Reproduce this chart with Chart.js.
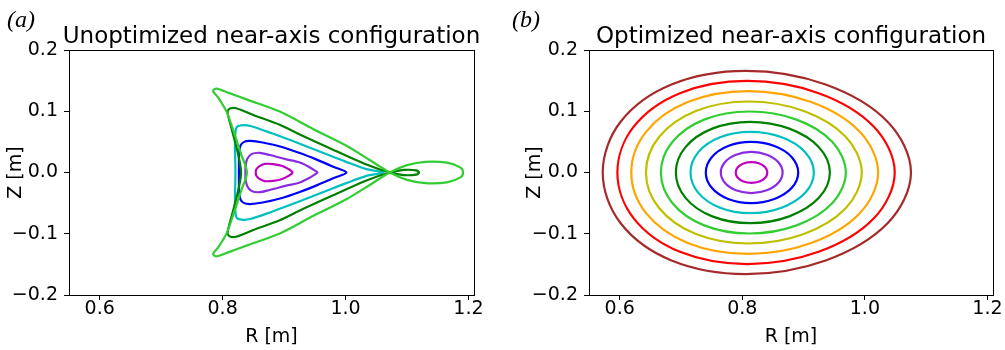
<!DOCTYPE html>
<html>
<head>
<meta charset="utf-8">
<script src="https://cdn.jsdelivr.net/npm/chart.js@4.4.1/dist/chart.umd.min.js"></script>
<style>
  body { margin: 0; background: #fff; }
  #wrap { position: relative; width: 1005px; height: 350px; }
  canvas { position: absolute; top: 0; }
</style>
</head>
<body>
<div id="wrap">
  <canvas id="panelA" width="505" height="350" style="left:0"></canvas>
  <canvas id="panelB" width="500" height="350" style="left:505px"></canvas>
</div>
<script>
// axis limits and tick labels
const rRange = [0.550, 1.209];
const zRange = [-0.2, 0.2];
const rTicks = [0.6, 0.8, 1.0, 1.2];
const zTicks = [-0.2, -0.1, 0.0, 0.1, 0.2];

// (a) unoptimized: flux surfaces as [R, Z], innermost first
const unoptColors = ['#bf00bf', '#8a2be2', '#0000ff', '#00bfbf', '#008000', '#32cd32'];
const unopt1 = [[0.8539, 0], [0.8544, 0.0045], [0.8593, 0.0100], [0.8685, 0.0140], [0.8821, 0.0137], [0.8957, 0.0110],
  [0.9065, 0.0060], [0.9136, 0], [0.9065, -0.0060], [0.8957, -0.0110], [0.8821, -0.0137], [0.8685, -0.0140],
  [0.8593, -0.0100], [0.8544, -0.0045]];
const unopt2 = [[0.8371, 0], [0.8372, 0.0100], [0.8397, 0.0215], [0.8468, 0.0300], [0.8604, 0.0322], [0.8767, 0.0285],
  [0.9038, 0.0215], [0.9255, 0.0164], [0.9400, 0.0095], [0.9490, 0.0040], [0.9543, 0], [0.9490, -0.0040],
  [0.9400, -0.0095], [0.9255, -0.0164], [0.9038, -0.0215], [0.8767, -0.0285], [0.8604, -0.0322], [0.8468, -0.0300],
  [0.8397, -0.0215], [0.8372, -0.0100]];
const unopt3 = [[0.8265, 0], [0.8265, 0.0170], [0.8268, 0.0330], [0.8290, 0.0440], [0.8350, 0.0500], [0.8450, 0.0515],
  [0.8650, 0.0490], [0.8950, 0.0420], [0.9255, 0.0317], [0.9530, 0.0210], [0.9800, 0.0095], [1.0014, 0],
  [0.9800, -0.0095], [0.9530, -0.0210], [0.9255, -0.0317], [0.8950, -0.0420], [0.8650, -0.0490], [0.8450, -0.0515],
  [0.8350, -0.0500], [0.8290, -0.0440], [0.8268, -0.0330], [0.8265, -0.0170]];
const unopt4 = [[0.8208, 0], [0.8205, 0.0200], [0.8200, 0.0400], [0.8205, 0.0620], [0.8230, 0.0740], [0.8300, 0.0770],
  [0.8450, 0.0760], [0.8800, 0.0640], [0.9255, 0.0470], [0.9650, 0.0315], [1.0000, 0.0178], [1.0340, 0.0055],
  [1.0620, 0], [1.0340, -0.0055], [1.0000, -0.0178], [0.9650, -0.0315], [0.9255, -0.0470], [0.8800, -0.0640],
  [0.8450, -0.0760], [0.8300, -0.0770], [0.8230, -0.0740], [0.8205, -0.0620], [0.8200, -0.0400], [0.8205, -0.0200]];
const unopt5 = [[0.8300, 0], [0.8240, 0.0350], [0.8150, 0.0700], [0.8080, 0.0990], [0.8120, 0.1045], [0.8220, 0.1050],
  [0.8500, 0.0940], [0.8929, 0.0780], [0.9255, 0.0620], [0.9797, 0.0372], [1.0340, 0.0130], [1.0720, 0],
  [1.0950, -0.0042], [1.1150, -0.0035], [1.1196, 0], [1.1150, 0.0035], [1.0950, 0.0042], [1.0720, 0],
  [1.0340, -0.0130], [0.9797, -0.0372], [0.9255, -0.0620], [0.8929, -0.0780], [0.8500, -0.0940], [0.8220, -0.1050],
  [0.8120, -0.1045], [0.8080, -0.0990], [0.8150, -0.0700], [0.8240, -0.0350]];
const unopt6 = [[0.8395, 0], [0.8300, 0.0300], [0.8169, 0.0700], [0.8062, 0.0998], [0.7930, 0.1220], [0.7844, 0.1330],
  [0.7900, 0.1370], [0.8100, 0.1300], [0.8400, 0.1190], [0.8929, 0.0995], [0.9471, 0.0710], [1.0014, 0.0437],
  [1.0400, 0.0200], [1.0720, 0], [1.1000, -0.0120], [1.1300, -0.0175], [1.1650, -0.0160], [1.1870, -0.0080],
  [1.1912, 0], [1.1870, 0.0080], [1.1650, 0.0160], [1.1300, 0.0175], [1.1000, 0.0120], [1.0720, 0],
  [1.0400, -0.0200], [1.0014, -0.0437], [0.9471, -0.0710], [0.8929, -0.0995], [0.8400, -0.1190], [0.8100, -0.1300],
  [0.7900, -0.1370], [0.7844, -0.1330], [0.7930, -0.1220], [0.8062, -0.0998], [0.8169, -0.0700], [0.8300, -0.0300]];

// (b) optimized: flux surfaces as [R, Z], innermost first
const optColors = ['#bf00bf', '#8a2be2', '#0000ff', '#00bfbf', '#008000', '#32cd32', '#bfbf00', '#ffa500', '#ff0000', '#a52a2a'];
const opt1 = [[0.8409, 0], [0.8374, 0.0085], [0.8279, 0.0146], [0.8149, 0.0169], [0.8021, 0.0146], [0.7927, 0.0085],
  [0.7893, 0], [0.7927, -0.0085], [0.8021, -0.0146], [0.8149, -0.0169], [0.8279, -0.0146], [0.8374, -0.0085]];
const opt2 = [[0.8658, 0], [0.8589, 0.0168], [0.8401, 0.0291], [0.8147, 0.0336], [0.7897, 0.0291], [0.7716, 0.0168],
  [0.7650, 0], [0.7716, -0.0168], [0.7897, -0.0291], [0.8147, -0.0336], [0.8401, -0.0291], [0.8589, -0.0168]];
const opt3 = [[0.8913, 0], [0.8808, 0.0250], [0.8524, 0.0432], [0.8143, 0.0499], [0.7770, 0.0432], [0.7502, 0.0250],
  [0.7405, 0], [0.7502, -0.0250], [0.7770, -0.0432], [0.8143, -0.0499], [0.8524, -0.0432], [0.8808, -0.0250]];
const opt4 = [[0.9168, 0], [0.9026, 0.0332], [0.8643, 0.0574], [0.8133, 0.0663], [0.7637, 0.0574], [0.7284, 0.0332],
  [0.7156, 0], [0.7284, -0.0332], [0.7637, -0.0574], [0.8133, -0.0663], [0.8643, -0.0574], [0.9026, -0.0332]];
const opt5 = [[0.9429, 0], [0.9250, 0.0414], [0.8767, 0.0716], [0.8128, 0.0827], [0.7511, 0.0716], [0.7074, 0.0414],
  [0.6917, 0], [0.7074, -0.0414], [0.7511, -0.0716], [0.8128, -0.0827], [0.8767, -0.0716], [0.9250, -0.0414]];
const opt6 = [[0.9689, 0], [0.9471, 0.0498], [0.8886, 0.0863], [0.8116, 0.0996], [0.7378, 0.0863], [0.6859, 0.0498],
  [0.6673, 0], [0.6859, -0.0498], [0.7378, -0.0863], [0.8116, -0.0996], [0.8886, -0.0863], [0.9471, -0.0498]];
const opt7 = [[0.9949, 0], [0.9691, 0.0580], [0.9003, 0.1004], [0.8101, 0.1159], [0.7243, 0.1004], [0.6643, 0.0580],
  [0.6429, 0], [0.6643, -0.0580], [0.7243, -0.1004], [0.8101, -0.1159], [0.9003, -0.1004], [0.9691, -0.0580]];
const opt8 = [[1.0216, 0], [0.9917, 0.0664], [0.9124, 0.1150], [0.8088, 0.1328], [0.7110, 0.1150], [0.6431, 0.0664],
  [0.6190, 0], [0.6431, -0.0664], [0.7110, -0.1150], [0.8088, -0.1328], [0.9124, -0.1150], [0.9917, -0.0664]];
const opt9 = [[1.0487, 0], [1.0147, 0.0748], [0.9246, 0.1295], [0.8079, 0.1495], [0.6984, 0.1295], [0.6229, 0.0748],
  [0.5963, 0], [0.6229, -0.0748], [0.6984, -0.1295], [0.8079, -0.1495], [0.9246, -0.1295], [1.0147, -0.0748]];
const opt10 = [[1.0752, 0], [1.0370, 0.0829], [0.9360, 0.1436], [0.8058, 0.1658], [0.6846, 0.1436], [0.6016, 0.0829],
  [0.5724, 0], [0.6016, -0.0829], [0.6846, -0.1436], [0.8058, -0.1658], [0.9360, -0.1436], [1.0370, -0.0829]];

const tickFont = { family: 'DejaVu Sans', size: 19 };
const labelFont = { family: 'DejaVu Sans', size: 19 };

// wrap the loop with one point before and two after so the smoothing has neighbours
// all the way round; the two outer segments are then left invisible
function wrapLoop(pts) {
  const n = pts.length;
  return [pts[n - 1]].concat(pts, [pts[0], pts[1]]).map(p => ({ x: p[0], y: p[1] }));
}

function fmtZ(v) {
  if (Math.abs(v) < 1e-9) return '0.0';
  return v.toFixed(1).replace('-', '\u2212');
}

function makePanel(canvasId, surfaces, colors, title, letter, yWidth, padRight, yTitlePad, tension) {
  const frame = {
    id: 'frame',
    afterDraw(chart) {
      const ctx = chart.ctx;
      const a = chart.chartArea;
      ctx.save();
      ctx.strokeStyle = '#000';
      ctx.lineWidth = 1;
      ctx.strokeRect(Math.round(a.left) + 0.5, Math.round(a.top) + 0.5,
        Math.round(a.right) - Math.round(a.left), Math.round(a.bottom) - Math.round(a.top));
      ctx.fillStyle = '#000';
      ctx.textAlign = 'center';
      ctx.textBaseline = 'alphabetic';
      ctx.font = '23px "DejaVu Sans"';
      ctx.fillText(title, (a.left + a.right) / 2, 43);
      ctx.textAlign = 'left';
      ctx.font = 'italic 24px "Liberation Serif"';
      ctx.fillText(letter, 7, 27);
      ctx.restore();
    }
  };

  return new Chart(document.getElementById(canvasId), {
    type: 'line',
    data: {
      datasets: surfaces.map((pts, i) => {
        const last = pts.length + 1;
        return {
          data: wrapLoop(pts),
          borderColor: colors[i],
          backgroundColor: colors[i],
          borderWidth: 2.2,
          pointRadius: 0,
          fill: false,
          tension: tension,
          order: -i,
          segment: {
            borderColor: ctx => (ctx.p0DataIndex === 0 || ctx.p0DataIndex === last) ? 'rgba(0,0,0,0)' : undefined
          }
        };
      })
    },
    options: {
      responsive: false,
      devicePixelRatio: 1,
      animation: false,
      events: [],
      layout: { padding: { top: 50, right: padRight, bottom: 0, left: 0 } },
      scales: {
        x: {
          type: 'linear',
          position: 'bottom',
          min: rRange[0],
          max: rRange[1],
          afterBuildTicks: function(s) { s.ticks = rTicks.map(v => ({ value: v })); },
          afterFit: function(s) { s.height = 55; },
          ticks: {
            color: '#000',
            font: { family: tickFont.family, size: tickFont.size, lineHeight: 1 },
            padding: 0,
            maxRotation: 0,
            callback: function(v) { return v.toFixed(1); }
          },
          grid: { drawOnChartArea: false, tickLength: 5, color: '#000', lineWidth: 1 },
          border: { color: '#000', width: 1 },
          title: { display: true, text: 'R [m]', color: '#000', font: labelFont, padding: { top: 0, bottom: 1.5 } }
        },
        y: {
          type: 'linear',
          position: 'left',
          min: zRange[0],
          max: zRange[1],
          afterBuildTicks: function(s) { s.ticks = zTicks.map(v => ({ value: v })); },
          afterFit: function(s) { s.width = yWidth; },
          ticks: {
            color: '#000',
            font: tickFont,
            padding: 6,
            callback: function(v) { return fmtZ(v); }
          },
          grid: { drawOnChartArea: false, tickLength: 5, color: '#000', lineWidth: 1 },
          border: { color: '#000', width: 1 },
          title: { display: true, text: 'Z [m]', color: '#000', font: labelFont, padding: { top: yTitlePad, bottom: 0 } }
        }
      },
      plugins: {
        legend: { display: false },
        tooltip: { enabled: false }
      }
    },
    plugins: [frame]
  });
}

makePanel('panelA', [unopt1, unopt2, unopt3, unopt4, unopt5, unopt6], unoptColors,
  'Unoptimized near-axis configuration', '(a)', 69, 31, 4.5, 0.3);
makePanel('panelB', [opt1, opt2, opt3, opt4, opt5, opt6, opt7, opt8, opt9, opt10], optColors,
  'Optimized near-axis configuration', '(b)', 84, 12, 19, 0.35);
</script>
</body>
</html>
